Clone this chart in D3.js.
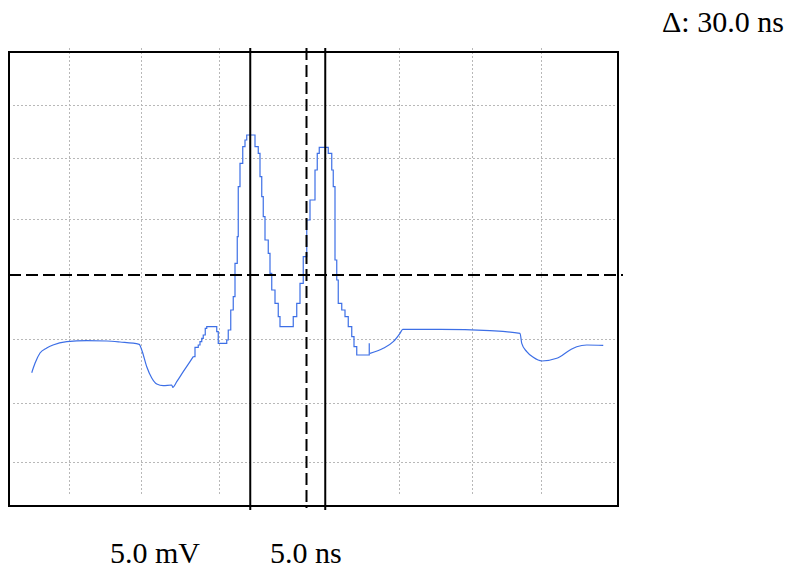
<!DOCTYPE html>
<html lang="en">

<head>
  <meta charset="utf-8">
  <title>Scope trace</title>
  <style>
    body {
      margin: 0;
      background: #ffffff;
    }

    #chart text {
      font-family: "Liberation Serif", "Times New Roman", serif;
      font-size: 30px;
      fill: #000;
    }

    .grid line {
      stroke: #b8b8b8;
      stroke-width: 1;
      stroke-dasharray: 2, 2;
    }

    .grid path {
      display: none;
    }
  </style>
</head>

<body>
  <div id="chart"></div>
</body>
<script src="https://d3js.org/d3.v7.min.js"></script>

<script>
  // time in ns, level in mV
  var gridTimes = [24, 52.8, 84, 156, 185.2, 212.8];
  var gridLevels = [17, 11.7, 5.6, -6.4, -12.8, -18.7];
  var cursorTimes = [96.5, 126.5];
  var dashedCursorTime = 119;
  var triggerLevel = 0;

  var leftT = [9.1, 10.4, 12.4, 15.1, 17.6, 23.1, 31.1, 39.1, 44.4, 52.1, 53.1, 55.1, 57.1, 59.1, 61.7, 65.1, 65.5, 67.1, 69.7, 72.4, 73.7];
  var leftV = [-9.77, -8.83, -7.8, -7.3, -7.0, -6.67, -6.57, -6.6, -6.7, -6.93, -7.5, -9.17, -10.3, -10.9, -11.07, -11.0, -11.23, -10.67, -9.67, -8.67, -8.17];

  var pulseT = [73.7, 74.4, 75.7, 76.4, 77.1, 77.7, 78.5, 79.1, 81.7, 83.1, 83.7, 86.4, 87.1, 87.7, 88.7, 89.7, 90.4, 91.3, 91.7, 92.4,
    93.5, 94.4, 95.1, 97.5, 98.4, 99.7, 100.4, 101.1, 101.7, 102.4, 103.7, 104.4, 105.1, 106.4, 107.7, 108.4, 112.4, 113.7, 115.1, 116.4,
    117.7, 119.1, 120.4, 122.4, 123.3, 124.1, 126.4, 127.7, 129.1, 129.7, 130.4, 131.1, 131.7, 133.1, 134.4, 135.7, 137.1, 138.0, 139.1, 143.7, 144.1];
  var pulseV = [-8.17, -7.23, -7.0, -6.67, -6.33, -6.0, -5.33, -5.17, -5.17, -5.67, -6.83, -6.83, -6.5, -5.5, -3.5, -2.17, 1.17, 3.83, 8.83, 11.17,
    12.83, 13.5, 14.0, 14.0, 12.83, 12.17, 9.83, 7.83, 5.83, 3.5, 2.17, 0.17, -1.5, -2.83, -4.17, -5.17, -5.17, -4.17, -2.83, -0.83,
    1.83, 5.5, 7.5, 10.5, 12.17, 12.77, 12.77, 12.17, 10.5, 8.83, 1.5, -0.5, -2.83, -3.5, -4.17, -5.17, -6.17, -7.17, -8.0, -8.0, -6.83];

  var rightT = [144.4, 149.7, 153.7, 156.4, 157.5, 172.4, 192.4, 204.4, 205.1, 207.1, 209.7, 213.1, 219.1, 224.4, 227.1, 231.1, 237.7];
  var rightV = [-7.83, -7.33, -6.67, -5.83, -5.43, -5.43, -5.57, -5.83, -6.83, -7.67, -8.23, -8.6, -8.33, -7.5, -7.17, -7.0, -7.03];

  var labels = ["5.0 mV", "5.0 ns"];
  var deltaLabel = "\u0394: 30.0 ns";

  var frame = { left: 9, right: 618, top: 52, bottom: 506 };

  var svg = d3.select("#chart")
    .append("svg")
    .attr("width", 790)
    .attr("height", 585);

  var x = d3.scaleLinear()
    .domain([0, 243.6])
    .range([frame.left, frame.right]);

  var y = d3.scaleLinear()
    .domain([-23.1, 22.3])
    .range([frame.bottom, frame.top]);

  // grid
  svg.append("g")
    .attr("class", "grid")
    .attr("transform", "translate(0," + (frame.bottom - 12) + ")")
    .call(d3.axisBottom(x).tickValues(gridTimes).tickFormat("").tickSizeOuter(0)
      .tickSizeInner(-(frame.bottom - frame.top - 7)));

  svg.append("g")
    .attr("class", "grid")
    .attr("transform", "translate(" + (frame.left + 4) + ",0)")
    .call(d3.axisRight(y).tickValues(gridLevels).tickFormat("").tickSizeOuter(0)
      .tickSizeInner(frame.right - frame.left - 1));

  // trace
  function pts(ts, vs) {
    return ts.map(function (t, i) {
      return [t, vs[i]];
    });
  }

  var smooth = d3.line()
    .x(function (d) { return x(d[0]); })
    .y(function (d) { return y(d[1]); })
    .curve(d3.curveMonotoneX);

  var stepped = d3.line()
    .x(function (d) { return x(d[0]); })
    .y(function (d) { return y(d[1]); })
    .curve(d3.curveStepAfter);

  svg.append("path")
    .attr("d", smooth(pts(leftT, leftV)))
    .attr("fill", "none")
    .attr("stroke", "#3d6fe6")
    .attr("stroke-width", 1.2);

  svg.append("path")
    .attr("d", stepped(pts(pulseT, pulseV)))
    .attr("fill", "none")
    .attr("stroke", "#3d6fe6")
    .attr("stroke-width", 1.2);

  svg.append("path")
    .attr("d", smooth(pts(rightT, rightV)))
    .attr("fill", "none")
    .attr("stroke", "#3d6fe6")
    .attr("stroke-width", 1.2);

  // frame
  svg.append("rect")
    .attr("x", frame.left)
    .attr("y", frame.top)
    .attr("width", frame.right - frame.left)
    .attr("height", frame.bottom - frame.top)
    .attr("fill", "none")
    .attr("stroke", "#000")
    .attr("stroke-width", 2);

  // cursors
  svg.selectAll(".cursor")
    .data(cursorTimes)
    .enter()
    .append("line")
    .attr("class", "cursor")
    .attr("x1", function (d) { return x(d); })
    .attr("x2", function (d) { return x(d); })
    .attr("y1", frame.top - 4)
    .attr("y2", frame.bottom + 4)
    .attr("stroke", "#000")
    .attr("stroke-width", 2);

  svg.append("line")
    .attr("x1", x(dashedCursorTime))
    .attr("x2", x(dashedCursorTime))
    .attr("y1", frame.top - 4)
    .attr("y2", frame.bottom + 2)
    .attr("stroke", "#000")
    .attr("stroke-width", 2)
    .attr("stroke-dasharray", "12,5");

  svg.append("line")
    .attr("x1", frame.left)
    .attr("x2", frame.right + 5)
    .attr("y1", y(triggerLevel))
    .attr("y2", y(triggerLevel))
    .attr("stroke", "#000")
    .attr("stroke-width", 2)
    .attr("stroke-dasharray", "12,5");

  // labels
  svg.append("text")
    .attr("x", 662)
    .attr("y", 32)
    .text(deltaLabel);

  svg.selectAll(".scale-label")
    .data(labels)
    .enter()
    .append("text")
    .attr("class", "scale-label")
    .attr("x", function (d, i) { return i === 0 ? 110 : 270; })
    .attr("y", 563)
    .text(function (d) { return d; });
</script>

</html>
